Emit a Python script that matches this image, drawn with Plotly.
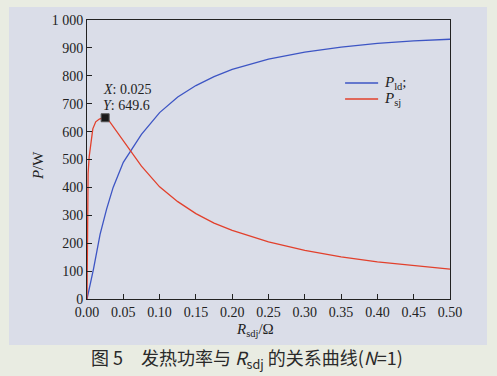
import plotly.graph_objects as go

# Data
r_sj = [0, 0.0003, 0.0008, 0.0015, 0.003, 0.005, 0.008, 0.012, 0.017, 0.021, 0.025,
        0.030, 0.035, 0.040, 0.050, 0.075, 0.100, 0.125, 0.150, 0.175, 0.200,
        0.250, 0.300, 0.350, 0.400, 0.450, 0.500]
p_sj = [0, 200, 380, 450, 510, 560, 610, 635, 645, 648, 649.6,
        640, 622, 603, 565, 476, 402, 349, 306, 272, 246,
        205, 174, 151, 133, 119, 107]

r_ld = [0, 0.009, 0.018, 0.027, 0.036, 0.050, 0.075, 0.100, 0.125, 0.150,
        0.175, 0.200, 0.250, 0.300, 0.350, 0.400, 0.450, 0.500]
p_ld = [0, 108, 232, 322, 400, 490, 590, 668, 724, 765,
        797, 823, 860, 885, 903, 916, 925, 931]

peak_x = 0.025
peak_y = 649.6

x_ticks = [0, 0.05, 0.10, 0.15, 0.20, 0.25, 0.30, 0.35, 0.40, 0.45, 0.50]
x_labels = ["0.00", "0.05", "0.10", "0.15", "0.20", "0.25", "0.30", "0.35", "0.40", "0.45", "0.50"]
y_ticks = [0, 100, 200, 300, 400, 500, 600, 700, 800, 900, 1000]
y_labels = ["0", "100", "200", "300", "400", "500", "600", "700", "800", "900", "1 000"]

series_names = ["<i>P</i><sub>ld</sub>;", "<i>P</i><sub>sj</sub>"]
series_colors = ["#3d55c4", "#e2402c"]

serif = "Liberation Serif, Times New Roman, serif"

fig = go.Figure()
fig.add_trace(go.Scatter(x=r_ld, y=p_ld, mode="lines", name=series_names[0], showlegend=False,
                         line=dict(color=series_colors[0], width=1.3)))
fig.add_trace(go.Scatter(x=r_sj, y=p_sj, mode="lines", name=series_names[1], showlegend=False,
                         line=dict(color=series_colors[1], width=1.3)))
fig.add_trace(go.Scatter(x=[peak_x], y=[peak_y], mode="markers", showlegend=False,
                         marker=dict(symbol="square", size=8, color="#1a1a1a",
                                     line=dict(color="#555", width=1))))

# data-tip labels
fig.add_annotation(x=peak_x, y=peak_y, xref="x", yref="y", showarrow=False,
                   text="<i>X</i>: 0.025", xanchor="left", yanchor="middle",
                   xshift=-4, yshift=28, font=dict(family=serif, size=14, color="#222"))
fig.add_annotation(x=peak_x, y=peak_y, xref="x", yref="y", showarrow=False,
                   text="<i>Y</i>: 649.6", xanchor="left", yanchor="middle",
                   xshift=-4, yshift=12, font=dict(family=serif, size=14, color="#222"))

# panel background
fig.add_shape(type="rect", xref="paper", yref="paper", layer="below",
              x0=-0.2149, x1=1.1019, y0=-0.1649, y1=1.0466,
              fillcolor="#dadde8", line=dict(width=0))

# manual legend
leg_y = [0.774, 0.717]
for name, col, ly in zip(series_names, series_colors, leg_y):
    fig.add_shape(type="line", xref="paper", yref="paper", x0=0.711, x1=0.802, y0=ly, y1=ly,
                  line=dict(color=col, width=1.5))
    fig.add_annotation(x=0.813, y=ly, xref="paper", yref="paper", showarrow=False,
                       text=name, xanchor="left", yanchor="middle",
                       font=dict(family=serif, size=15, color="#222"))

# axis titles
fig.add_annotation(x=-0.135, y=0.48, xref="paper", yref="paper", showarrow=False,
                   text="<i>P</i>/W", textangle=-90, xanchor="center", yanchor="middle",
                   font=dict(family=serif, size=15, color="#222"))
fig.add_annotation(x=0.463, y=-0.111, xref="paper", yref="paper", showarrow=False,
                   text="<i>R</i><sub>sdj</sub>/Ω", xanchor="center", yanchor="middle",
                   font=dict(family=serif, size=15, color="#222"))
# caption
fig.add_annotation(x=0.44, y=-0.215, xref="paper", yref="paper", showarrow=False,
                   text="图 5　发热功率与 <i>R</i><sub>sdj</sub> 的关系曲线(<i>N</i>=1)",
                   xanchor="center", yanchor="middle",
                   font=dict(family="Noto Sans CJK SC, sans-serif", size=18, color="#2a2a2a"))

axis_common = dict(showgrid=False, zeroline=False, showline=True, linecolor="#222",
                   linewidth=1, mirror=True, ticks="inside", ticklen=5,
                   tickcolor="#222", tickfont=dict(family=serif, size=14, color="#222"))

fig.update_xaxes(range=[0, 0.5], tickvals=x_ticks, ticktext=x_labels, **axis_common)
fig.update_yaxes(range=[0, 1000], tickvals=y_ticks, ticktext=y_labels, **axis_common)

fig.update_layout(
    width=497, height=376,
    margin=dict(l=87, r=47, t=20, b=77),
    paper_bgcolor="#e9ece2",
    plot_bgcolor="rgba(0,0,0,0)",
    showlegend=False,
)

fig.write_html("out.html", config={"displayModeBar": False},
               post_script="document.body.style.margin='0';")
